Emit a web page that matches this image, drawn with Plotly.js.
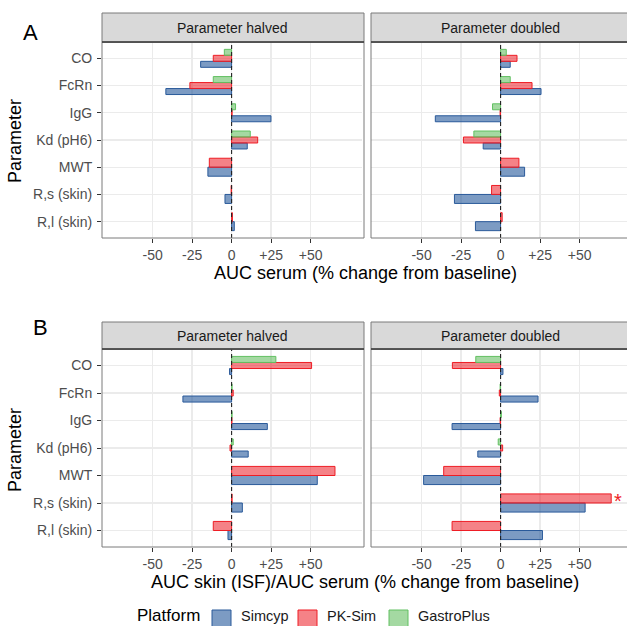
<!DOCTYPE html>
<html>
<head>
<meta charset="utf-8">
<script src="https://cdn.plot.ly/plotly-3.0.1.min.js"></script>
<style>html,body{margin:0;padding:0;background:#fff;}#chart{width:627px;height:626px;}</style>
</head>
<body>
<div id="chart"></div>
<script>
// ---------- data ----------
const parameters = ['CO', 'FcRn', 'IgG', 'Kd (pH6)', 'MWT', 'R,s (skin)', 'R,l (skin)'];
const platforms = ['Simcyp', 'PK-Sim', 'GastroPlus'];
const xTickVals = [-50, -25, 0, 25, 50];
const xTickText = ['-50', '-25', '0', '+25', '+50'];
const stripLabels = ['Parameter halved', 'Parameter doubled'];
const xTitles = ['AUC serum (% change from baseline)', 'AUC skin (ISF)/AUC serum (% change from baseline)'];

// Panel A: AUC serum
const simcypAHalved  = [-19.6, -41.6, 24.9, 9.9, -15.0, -4.2, 1.7];
const pksimAHalved   = [-11.6, -26.4, 0.3, 16.5, -14.1, -0.3, 0.5];
const gastroAHalved  = [-4.6, -11.6, 2.5, 11.8, null, null, null];
const simcypADoubled = [6.1, 25.6, -41.3, -11.0, 15.2, -29.2, -15.9];
const pksimADoubled  = [10.4, 19.9, -0.3, -23.5, 11.6, -5.7, 1.0];
const gastroADoubled = [3.6, 6.1, -5.1, -16.9, null, null, null];

// Panel B: AUC skin (ISF)/AUC serum
const simcypBHalved  = [-1.3, -30.8, 22.6, 10.5, 54.2, 6.8, -2.3];
const pksimBHalved   = [50.6, 1.0, 0.2, -1.0, 65.4, 0.3, -11.6];
const gastroBHalved  = [28.0, 0.3, 0.3, 1.0, null, null, null];
const simcypBDoubled = [1.5, 23.7, -30.7, -14.4, -48.7, 53.5, 26.5];
const pksimBDoubled  = [-30.5, -0.8, -0.3, 1.3, -36.0, 70.0, -30.7];
const gastroBDoubled = [-15.7, -0.3, 0.5, -1.5, null, null, null];

// ---------- styles ----------
const FONT = 'Liberation Sans, Arial, Helvetica, sans-serif';
const fills = {'Simcyp': 'rgba(44,94,158,0.62)', 'PK-Sim': 'rgba(236,28,36,0.55)', 'GastroPlus': 'rgba(80,182,76,0.52)'};
const edges = {'Simcyp': '#2a5a9a', 'PK-Sim': '#ee1d25', 'GastroPlus': '#62c062'};
const W = 627, H = 626;
const fx = p => p / W, fy = p => 1 - p / H;

const panels = [
  {ax: '', data: [simcypAHalved, pksimAHalved, gastroAHalved], col: 0, row: 0},
  {ax: '2', data: [simcypADoubled, pksimADoubled, gastroADoubled], col: 1, row: 0},
  {ax: '3', data: [simcypBHalved, pksimBHalved, gastroBHalved], col: 0, row: 1},
  {ax: '4', data: [simcypBDoubled, pksimBDoubled, gastroBDoubled], col: 1, row: 1}
];
const colPx = [[102, 362], [371, 627]];
const colRange = [[-82, 82.5], [-82, 80]];
const rowPx = [[42, 238], [349, 547]];
const stripPx = [[13, 42], [322, 349]];
const catOrder = parameters.slice().reverse();

// dodge emulation: width split among the platforms present at each category
function dodge(dataSet) {
  const total = 0.66;
  const res = dataSet.map(() => ({w: [], o: []}));
  for (let i = 0; i < parameters.length; i++) {
    const present = dataSet.map(a => a[i] !== null && a[i] !== undefined);
    const n = present.filter(Boolean).length;
    const w = total / n;
    let k = 0;
    for (let s = 0; s < dataSet.length; s++) {
      if (present[s]) {
        res[s].w.push(w);
        res[s].o.push(-total / 2 + k * w);
        k++;
      } else { res[s].w.push(0); res[s].o.push(0); }
    }
  }
  return res;
}

const traces = [];
const layout = {
  width: W, height: H,
  margin: {l: 0, r: 0, t: 0, b: 0},
  paper_bgcolor: '#fff', plot_bgcolor: '#fff',
  barmode: 'overlay',
  showlegend: false,
  font: {family: FONT, color: '#4d4d4d', size: 14},
  shapes: [], annotations: []
};

panels.forEach(p => {
  const d = dodge(p.data);
  platforms.forEach((pl, s) => {
    traces.push({
      type: 'bar', orientation: 'h', name: pl,
      x: p.data[s], y: parameters,
      width: d[s].w, offset: d[s].o,
      xaxis: 'x' + p.ax, yaxis: 'y' + p.ax,
      marker: {color: fills[pl], line: {color: edges[pl], width: 1}},
      hoverinfo: 'x+y+name'
    });
  });
  const xa = {
    domain: [fx(colPx[p.col][0]), fx(colPx[p.col][1])],
    range: colRange[p.col], anchor: 'y' + p.ax,
    tickvals: xTickVals, ticktext: xTickText,
    ticks: 'outside', ticklen: 4, tickcolor: '#333', tickwidth: 1,
    showgrid: true, gridcolor: '#ebebeb', gridwidth: 1.4,
    zeroline: false, showline: false,
    tickfont: {size: 14, color: '#4d4d4d', family: FONT}
  };
  const ya = {
    domain: [fy(rowPx[p.row][1]), fy(rowPx[p.row][0])],
    type: 'category', categoryorder: 'array', categoryarray: catOrder,
    range: [-0.6, 6.6], anchor: 'x' + p.ax,
    showgrid: true, gridcolor: '#ebebeb', gridwidth: 1.4,
    zeroline: false, showline: false,
    showticklabels: p.col === 0,
    ticks: p.col === 0 ? 'outside' : '', ticklen: 4, tickcolor: '#333', tickwidth: 1,
    ticklabelstandoff: 2,
    tickfont: {size: 14, color: '#4d4d4d', family: FONT}
  };
  layout['xaxis' + p.ax] = xa;
  layout['yaxis' + p.ax] = ya;

  // dashed zero line
  layout.shapes.push({type: 'line', xref: 'x' + p.ax, x0: 0, x1: 0, yref: 'y' + p.ax + ' domain', y0: 0, y1: 1,
    line: {color: '#222', width: 1.1, dash: '4px,3px'}, layer: 'above'});
  // panel border
  layout.shapes.push({type: 'rect', xref: 'paper', yref: 'paper',
    x0: fx(colPx[p.col][0]), x1: fx(colPx[p.col][1] + 2), y0: fy(rowPx[p.row][1]), y1: fy(rowPx[p.row][0]),
    line: {color: '#7a7a7a', width: 1}, layer: 'above'});
  // strip
  layout.shapes.push({type: 'rect', xref: 'paper', yref: 'paper',
    x0: fx(colPx[p.col][0]), x1: fx(colPx[p.col][1] + 2), y0: fy(stripPx[p.row][1]), y1: fy(stripPx[p.row][0]),
    fillcolor: '#d9d9d9', line: {color: '#7a7a7a', width: 1}, layer: 'above'});
  layout.shapes.push({type: 'line', xref: 'paper', yref: 'paper',
    x0: fx(colPx[p.col][0]), x1: fx(colPx[p.col][1] + 2), y0: fy(stripPx[p.row][1]), y1: fy(stripPx[p.row][1]),
    line: {color: '#3a3a3a', width: 1.6}, layer: 'above'});
  layout.annotations.push({xref: 'paper', yref: 'paper',
    x: fx((colPx[p.col][0] + colPx[p.col][0] + 260) / 2), y: fy((stripPx[p.row][0] + stripPx[p.row][1]) / 2),
    text: stripLabels[p.col], showarrow: false, xanchor: 'center', yanchor: 'middle',
    font: {size: 14, color: '#1a1a1a', family: FONT}});
});

// axis titles
[[273, xTitles[0]], [582, xTitles[1]]].forEach(([py, t]) => {
  layout.annotations.push({xref: 'paper', yref: 'paper', x: fx(365), y: fy(py), text: t,
    showarrow: false, xanchor: 'center', yanchor: 'middle', font: {size: 18, color: '#000', family: FONT}});
});
[141, 450].forEach(py => {
  layout.annotations.push({xref: 'paper', yref: 'paper', x: fx(15), y: fy(py), text: 'Parameter',
    textangle: -90, showarrow: false, xanchor: 'center', yanchor: 'middle', font: {size: 18, color: '#000', family: FONT}});
});
// panel letters
[['A', 30, 33], ['B', 40, 327]].forEach(([t, px, py]) => {
  layout.annotations.push({xref: 'paper', yref: 'paper', x: fx(px), y: fy(py), text: t,
    showarrow: false, xanchor: 'center', yanchor: 'middle', font: {size: 22, color: '#000', family: FONT}});
});

// asterisk on the clipped PK-Sim bar (panel B, doubled)
const rsIdx = catOrder.indexOf('R,s (skin)');
layout.annotations.push({xref: 'x4', yref: 'y4', x: pksimBDoubled[parameters.indexOf('R,s (skin)')], y: rsIdx + 0.165,
  text: '*', showarrow: false, xanchor: 'left', yanchor: 'middle', xshift: 1, yshift: -3,
  font: {size: 20, color: '#ee1d25', family: FONT}});

// legend (drawn manually, ggplot style)
const legendKeyX = [212, 298, 389];
layout.annotations.push({xref: 'paper', yref: 'paper', x: fx(136), y: fy(615), text: 'Platform',
  showarrow: false, xanchor: 'left', yanchor: 'middle', borderpad: 0, font: {size: 17, color: '#000', family: FONT}});
platforms.forEach((pl, i) => {
  const kx = legendKeyX[i];
  layout.shapes.push({type: 'rect', xref: 'paper', yref: 'paper', x0: fx(kx), x1: fx(kx + 19), y0: fy(627), y1: fy(610),
    fillcolor: fills[pl], line: {color: edges[pl], width: 1}});
  layout.annotations.push({xref: 'paper', yref: 'paper', x: fx(kx + 28), y: fy(616), text: pl,
    showarrow: false, xanchor: 'left', yanchor: 'middle', borderpad: 0, font: {size: 14.5, color: '#1a1a1a', family: FONT}});
});

Plotly.newPlot('chart', traces, layout, {displayModeBar: false, staticPlot: true});
</script>
</body>
</html>
